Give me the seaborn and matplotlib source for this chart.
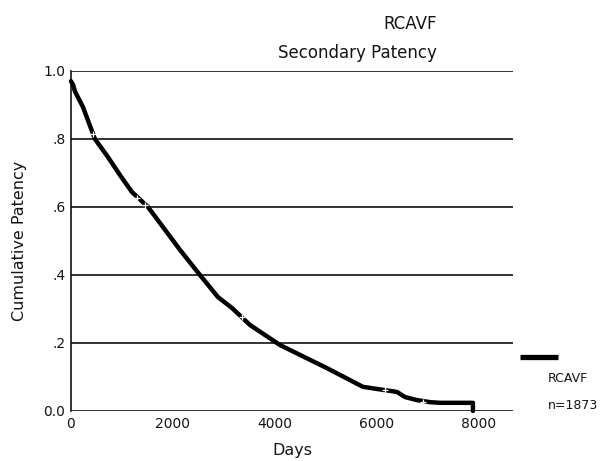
import matplotlib
matplotlib.use('Agg')
import matplotlib.pyplot as plt
import seaborn as sns
import pandas as pd

# 读取自图中的生存曲线数据（天数，累计通畅率）
days = [0, 40, 78, 235, 470, 725, 960, 1196, 1510, 1804, 2137, 2529, 2882,
        3157, 3510, 4098, 4490, 5020, 5725, 6392, 6550, 6784, 7040, 7235,
        7882, 7882]
patency = [0.97, 0.96, 0.94, 0.894, 0.80, 0.747, 0.694, 0.644, 0.60, 0.541,
           0.474, 0.40, 0.335, 0.303, 0.253, 0.194, 0.165, 0.126, 0.071,
           0.056, 0.041, 0.032, 0.026, 0.024, 0.024, 0.0]
# 删失点（白色小十字）
cens_days = [430, 1290, 1450, 3350, 6150, 6900]
cens_pat = [0.815, 0.625, 0.605, 0.275, 0.062, 0.027]
x_ticks = [0, 2000, 4000, 6000, 8000]
x_labels = ['0', '2000', '4000', '6000', '8000']
y_ticks = [0.0, 0.2, 0.4, 0.6, 0.8, 1.0]
y_labels = ['0.0', '.2', '.4', '.6', '.8', '1.0']
group = 'RCAVF'
n_total = 1873

df = pd.DataFrame({'Days': days, 'Patency': patency})
cens = pd.DataFrame({'Days': cens_days, 'Patency': cens_pat})

sns.set_style('white')
plt.rcParams['font.family'] = ['DejaVu Sans']
txt = '#141414'

fig = plt.figure(figsize=(6.03, 4.61), dpi=100)
ax = fig.add_axes([0.1177, 0.1085, 0.733, 0.7375])

# 网格线（横线）
for yv in y_ticks:
    ax.axhline(yv, color='#111111', lw=1.2, zorder=1)

sns.lineplot(data=df, x='Days', y='Patency', ax=ax, color='black', lw=3.2,
             sort=False, estimator=None, zorder=3, clip_on=False)
sns.scatterplot(data=cens, x='Days', y='Patency', ax=ax, marker='+', s=14,
                color='white', linewidth=0.9, zorder=4)

ax.set_xlim(0, 8667)
ax.set_ylim(0, 1)
ax.set_xticks(x_ticks)
ax.set_xticklabels(x_labels, fontsize=10)
ax.set_yticks(y_ticks)
ax.set_yticklabels(y_labels, fontsize=10)
ax.tick_params(length=0, pad=4, colors=txt)
for s in ['top', 'right', 'bottom']:
    ax.spines[s].set_visible(False)
ax.spines['left'].set_color('#111111')
ax.spines['left'].set_linewidth(1.2)
ax.set_xlabel('Days', fontsize=11.5, color=txt, labelpad=9)
ax.set_ylabel('Cumulative Patency', fontsize=11.5, color=txt, labelpad=12)

# 标题
fig.text(0.725, 0.948, group, ha='right', va='center', fontsize=12, color=txt)
fig.text(0.725, 0.885, 'Secondary Patency', ha='right', va='center', fontsize=12, color=txt)

# 图例
ax.plot([1.017, 1.103], [0.158, 0.158], transform=ax.transAxes, color='black',
        lw=3.8, clip_on=False, solid_capstyle='butt')
fig.text(0.908, 0.18, group, ha='left', va='center', fontsize=9, color=txt)
fig.text(0.908, 0.121, 'n=%d' % n_total, ha='left', va='center', fontsize=9, color=txt)

plt.savefig('out.png', dpi=100)
